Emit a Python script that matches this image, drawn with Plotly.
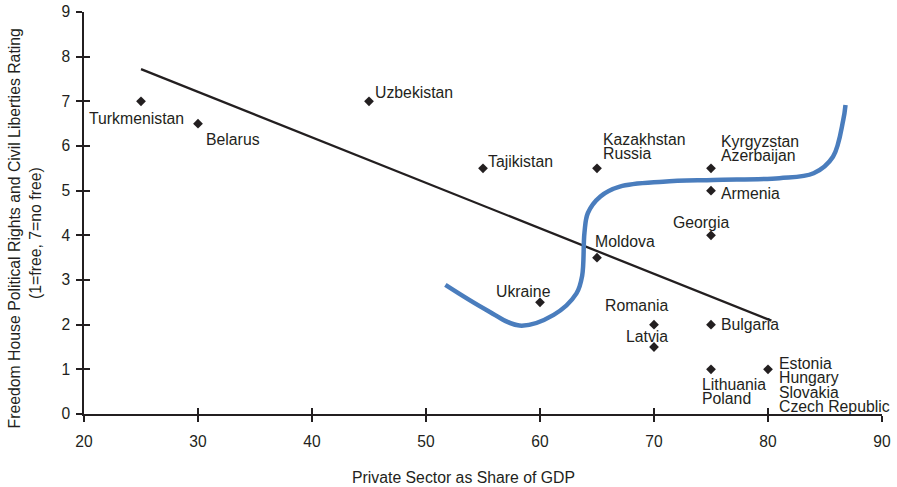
import plotly.graph_objects as go

# ---- data ----
points_x = [25, 30, 45, 55, 65, 75, 75, 75, 65, 60, 70, 70, 75, 75, 80]
points_y = [7, 6.5, 7, 5.5, 5.5, 5.5, 5, 4, 3.5, 2.5, 2, 1.5, 2, 1, 1]
point_labels = [
    ["Turkmenistan"], ["Belarus"], ["Uzbekistan"], ["Tajikistan"],
    ["Kazakhstan", "Russia"], ["Kyrgyzstan", "Azerbaijan"], ["Armenia"],
    ["Georgia"], ["Moldova"], ["Ukraine"], ["Romania"], ["Latvia"],
    ["Bulgaria"], ["Lithuania", "Poland"],
    ["Estonia", "Hungary", "Slovakia", "Czech Republic"],
]

trend_x = [25, 80.3]
trend_y = [7.72, 2.09]

curve_x = [51.7, 55.3, 58.2, 61.2, 63.2, 63.7, 63.9, 64.2, 65.3, 67.0, 70.8, 75.2, 81.0, 84.0, 85.7, 86.6, 86.8]
curve_y = [2.89, 2.33, 1.98, 2.22, 2.70, 3.1, 4.06, 4.5, 4.87, 5.09, 5.2, 5.24, 5.28, 5.39, 5.76, 6.58, 6.92]

x_ticks = [20, 30, 40, 50, 60, 70, 80, 90]
y_ticks = [0, 1, 2, 3, 4, 5, 6, 7, 8, 9]

x_title = "Private Sector as Share of GDP"
y_title_lines = ["Freedom House Political Rights and Civil Liberties Rating", "(1=free, 7=no free)"]

# ---- label placement (style) ----
label_style = [
    ("center", -5, -17), ("left", 6, -16), ("left", 4, 9), ("left", 3, 7),
    ("left", 4, 29), ("left", 8, 27), ("left", 8, -3), ("center", -10, 13),
    ("left", -4, 16), ("center", -17, 11), ("center", -18, 19), ("center", -7, 11),
    ("left", 8, 0), ("left", -11, -15), ("left", 9, 6),
]
LINE_GAP = 14.5

INK = "#231f20"
FONT = "Liberation Sans, Arial, sans-serif"
FS = 15.8

L, R, T, B = 84, 15, 12, 73
W, H = 897, 487
pw, ph = W - L - R, H - T - B

fig = go.Figure()

fig.add_trace(go.Scatter(x=trend_x, y=trend_y, mode="lines",
                         line=dict(color=INK, width=2.3), hoverinfo="skip"))
fig.add_trace(go.Scatter(x=curve_x, y=curve_y, mode="lines",
                         line=dict(color="#4a7dbd", width=4.5, shape="spline", smoothing=1.0),
                         hoverinfo="skip"))
fig.add_trace(go.Scatter(x=points_x, y=points_y, mode="markers",
                         marker=dict(symbol="diamond", size=7.5, color=INK)))
# invisible trace for inner tick axes
fig.add_trace(go.Scatter(x=[20, 90], y=[0, 9], xaxis="x2", yaxis="y2",
                         mode="markers", marker=dict(opacity=0), hoverinfo="skip"))

annotations = []
for px, py, lines, (anc, xs, ys) in zip(points_x, points_y, point_labels, label_style):
    for i, t in enumerate(lines):
        annotations.append(dict(
            x=px, y=py, xref="x", yref="y", text=t, showarrow=False,
            xanchor=anc, yanchor="middle", xshift=xs, yshift=ys - i * LINE_GAP,
            font=dict(size=FS, color=INK, family=FONT)))

def px2paper(x, y):
    return (x - L) / pw, (H - B - y) / ph

tx, ty = px2paper(463.5, 477)
annotations.append(dict(x=tx, y=ty, xref="paper", yref="paper", text=x_title,
                        showarrow=False, xanchor="center", yanchor="middle",
                        font=dict(size=FS, color=INK, family=FONT)))
for (cx, cy), t in zip([(13.5, 229), (35, 233)], y_title_lines):
    ax, ay = px2paper(cx, cy)
    annotations.append(dict(x=ax, y=ay, xref="paper", yref="paper", text=t,
                            showarrow=False, textangle=-90, xanchor="center", yanchor="middle",
                            font=dict(size=FS, color=INK, family=FONT)))

axis_common = dict(showgrid=False, zeroline=False, showline=True, linecolor=INK, linewidth=1.5,
                   ticks="outside", ticklen=6, tickwidth=1.5, tickcolor=INK, automargin=False,
                   tickfont=dict(size=15.6, color=INK, family=FONT))

fig.update_layout(
    template="none",
    width=W, height=H,
    margin=dict(l=L, r=R, t=T, b=B, pad=0),
    plot_bgcolor="white", paper_bgcolor="white",
    showlegend=False,
    xaxis=dict(range=[20, 90], tickvals=x_ticks, ticktext=[str(v) for v in x_ticks],
               ticklabelstandoff=7, **axis_common),
    yaxis=dict(range=[0, 9], tickvals=y_ticks, ticktext=[str(v) for v in y_ticks],
               ticklabelstandoff=3, **axis_common),
    xaxis2=dict(range=[20, 90], overlaying="x", tickvals=x_ticks, showticklabels=False,
                showgrid=False, zeroline=False, showline=False, automargin=False,
                ticks="inside", ticklen=6, tickwidth=1.5, tickcolor=INK, side="bottom"),
    yaxis2=dict(range=[0, 9], overlaying="y", tickvals=y_ticks, showticklabels=False,
                showgrid=False, zeroline=False, showline=False, automargin=False,
                ticks="inside", ticklen=6, tickwidth=1.5, tickcolor=INK, side="left"),
    annotations=annotations,
)

fig.write_html("out.html", config={"displayModeBar": False},
               post_script="document.body.style.margin='0';document.body.style.overflow='hidden';")
